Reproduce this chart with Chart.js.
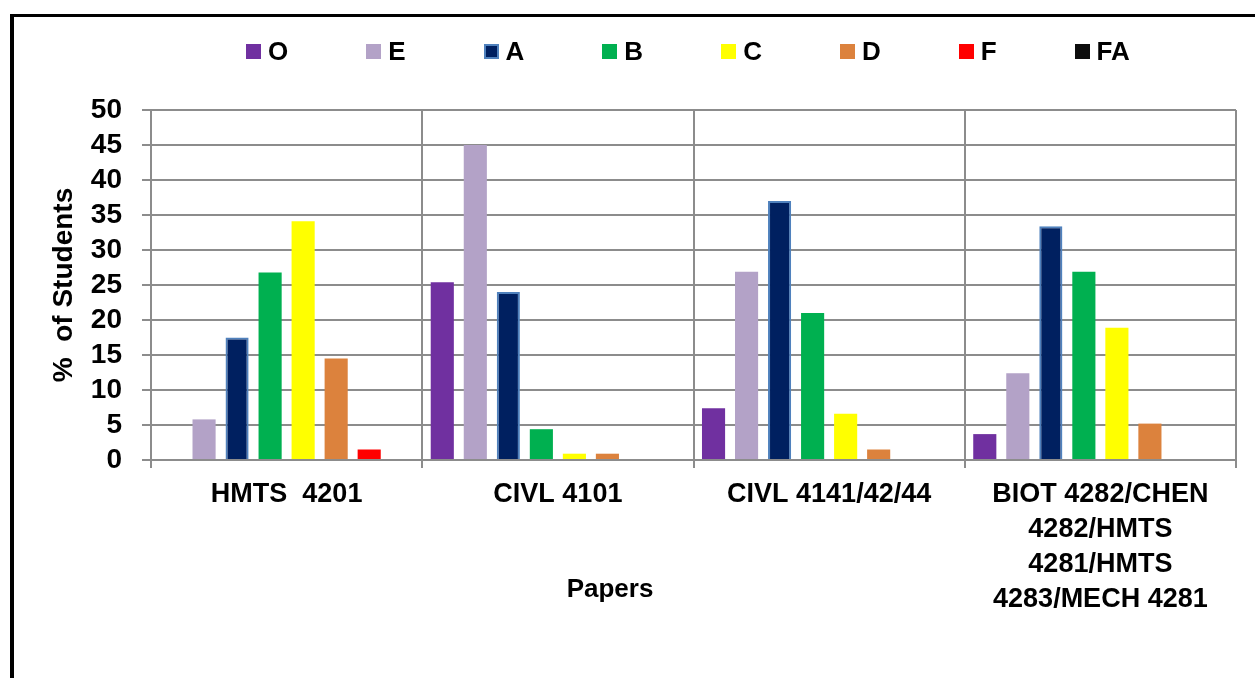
<!DOCTYPE html>
<html>
<head>
<meta charset="utf-8">
<script src="https://cdn.jsdelivr.net/npm/chart.js@4"></script>
<style>
  body { margin: 0; background: #fff; overflow: hidden; }
  #wrap { position: relative; width: 1255px; height: 678px; }
  #frame { position: absolute; left: 10px; top: 14px; width: 1400px; height: 800px;
           border-top: 3px solid #000; border-left: 4px solid #000; }
  #chart { position: absolute; left: 0; top: 0; }
  .legend { position: absolute; left: 246px; top: 36px; display: flex; align-items: center;
            font: bold 26px "Liberation Sans", Arial, sans-serif; color: #000; }
  .legend .item { display: flex; align-items: center; margin-right: 78px; }
  .legend .box { width: 15px; height: 15px; margin-right: 7px; box-sizing: border-box; }
  .xtitle { position: absolute; left: 610px; top: 588px; transform: translate(-50%, -50%);
            font: bold 26px "Liberation Sans", Arial, sans-serif; color: #000; }
</style>
</head>
<body>
<div id="wrap">
  <div id="frame"></div>
  <canvas id="chart" width="1255" height="678"></canvas>
  <div class="legend" id="legend"></div>
  <div class="xtitle">Papers</div>
</div>
<script>
// data (% of students per grade)
var papers = [["HMTS  4201"], ["CIVL 4101"], ["CIVL 4141/42/44"],
              ["BIOT 4282/CHEN", "4282/HMTS", "4281/HMTS", "4283/MECH 4281"]];
var grades = ["O", "E", "A", "B", "C", "D", "F", "FA"];
var gradeO  = [0, 25.4, 7.4, 3.7];
var gradeE  = [5.8, 45, 26.9, 12.4];
var gradeA  = [17.5, 24, 37, 33.4];
var gradeB  = [26.8, 4.4, 21, 26.9];
var gradeC  = [34.1, 0.9, 6.6, 18.9];
var gradeD  = [14.5, 0.9, 1.5, 5.2];
var gradeF  = [1.5, 0, 0, 0];
var gradeFA = [0, 0, 0, 0];
var yTicks = [0, 5, 10, 15, 20, 25, 30, 35, 40, 45, 50];

var values = [gradeO, gradeE, gradeA, gradeB, gradeC, gradeD, gradeF, gradeFA];
var colors = ["#7030A0", "#B3A2C7", "#002060", "#00B050", "#FFFF00", "#DC823D", "#FF0000", "#0D0D0D"];
var borders = ["#7030A0", "#B3A2C7", "#4F81BD", "#00B050", "#FFFF00", "#DC823D", "#FF0000", "#0D0D0D"];

var font = "'Liberation Sans', Arial, sans-serif";
var gridColor = "#8c8c8c";

var datasets = grades.map(function (g, i) {
  return {
    label: g,
    data: values[i],
    backgroundColor: colors[i],
    borderColor: borders[i],
    borderWidth: i == 2 ? 2 : 0,
    categoryPercentage: 0.974,
    barPercentage: 0.70
  };
});

var ctx = document.getElementById("chart").getContext("2d");
var chart = new Chart(ctx, {
  type: "bar",
  data: { labels: papers, datasets: datasets },
  options: {
    responsive: false,
    animation: false,
    layout: { padding: { left: 43, right: 19, top: 110, bottom: 0 } },
    plugins: {
      legend: { display: false },
      tooltip: { enabled: false }
    },
    scales: {
      x: {
        afterFit: function (s) { s.height = 218; },
        grid: { color: gridColor, lineWidth: 2, tickLength: 8, offset: true },
        border: { color: gridColor, width: 2 },
        ticks: { color: "#000", padding: 9, maxRotation: 0, autoSkip: false,
                 font: { family: font, size: 27, weight: "bold", lineHeight: 1.3 } }
      },
      y: {
        min: 0, max: 50,
        afterFit: function (s) { s.width = 108; },
        afterBuildTicks: function (s) { s.ticks = yTicks.map(function (v) { return { value: v }; }); },
        grid: { color: gridColor, lineWidth: 2, tickLength: 9 },
        border: { color: gridColor, width: 2 },
        ticks: { color: "#000", padding: 20, autoSkip: false,
                 font: { family: font, size: 28, weight: "bold" } },
        title: { display: true, text: "%  of Students", color: "#000", padding: { top: 4, bottom: 0 },
                 font: { family: font, size: 28, weight: "bold" } }
      }
    }
  }
});

// legend built from the datasets
var legend = document.getElementById("legend");
chart.data.datasets.forEach(function (ds) {
  var item = document.createElement("div");
  item.className = "item";
  var box = document.createElement("span");
  box.className = "box";
  box.style.background = ds.backgroundColor;
  if (ds.borderWidth) box.style.border = "2px solid " + ds.borderColor;
  var txt = document.createElement("span");
  txt.textContent = ds.label;
  item.appendChild(box);
  item.appendChild(txt);
  legend.appendChild(item);
});
</script>
</body>
</html>
